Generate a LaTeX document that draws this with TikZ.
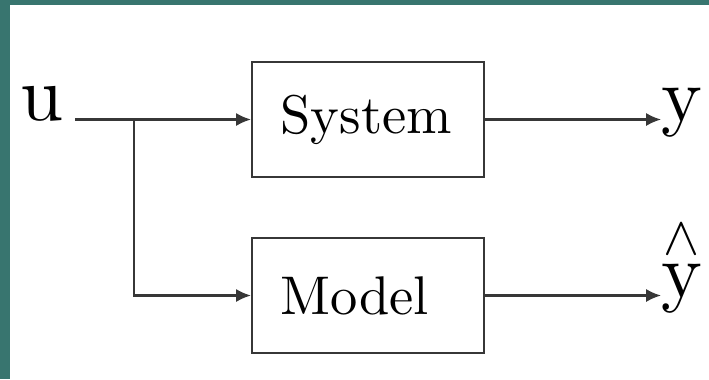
\RequirePackage{fix-cm}
\documentclass[tikz,border=0pt]{standalone}
\usepackage{amsmath}
\usepackage{fontspec}
\setmainfont{lmroman10-regular.otf}
\usepackage{tikz}
\usetikzlibrary{positioning, arrows.meta, calc}
\definecolor{slideteal}{RGB}{56, 117, 111}
\definecolor{wire}{RGB}{55, 55, 55}

\begin{document}
\begin{tikzpicture}[>={Latex[length=8.5pt, width=7.5pt]},
    block/.style={draw=wire, line width=1.2pt, minimum width=4.64cm, minimum height=2.30cm,
        text width=3.5cm, inner xsep=0.57cm, align=left, font=\fontsize{31}{37}\selectfont},
    sig/.style={->, draw=wire, line width=1.2pt},
    port/.style={inner sep=0pt, font=\fontsize{44}{52}\selectfont}]
\useasboundingbox (0,0) rectangle (14.18,-7.58);
% slide frame
\fill[slideteal] (0,0) rectangle (0.2,-7.58);
\fill[slideteal] (0,0) rectangle (14.18,-0.1);

\node[block] (sys) at (7.36,-2.39) {System};
\node[block] (mod) at (7.36,-5.91) {Model};

\node[port, anchor=base east] (u) at (1.27,-2.40) {u};
\node[port, anchor=base west] (y) at (13.22,-2.42) {y};
\node[port, anchor=base west] (yhat) at (13.22,-5.94) {$\overset{\wedge}{\mathrm{y}}$};

\coordinate (in) at (1.50,-2.39);
\coordinate (split) at (2.68,-2.39);

\draw[sig] (in) -- (sys);
\draw[sig] (split) |- (mod);
\draw[sig] (sys.east) -- (sys.east -| y.west);
\draw[sig] (mod.east) -- (mod.east -| yhat.west);
\end{tikzpicture}
\end{document}
